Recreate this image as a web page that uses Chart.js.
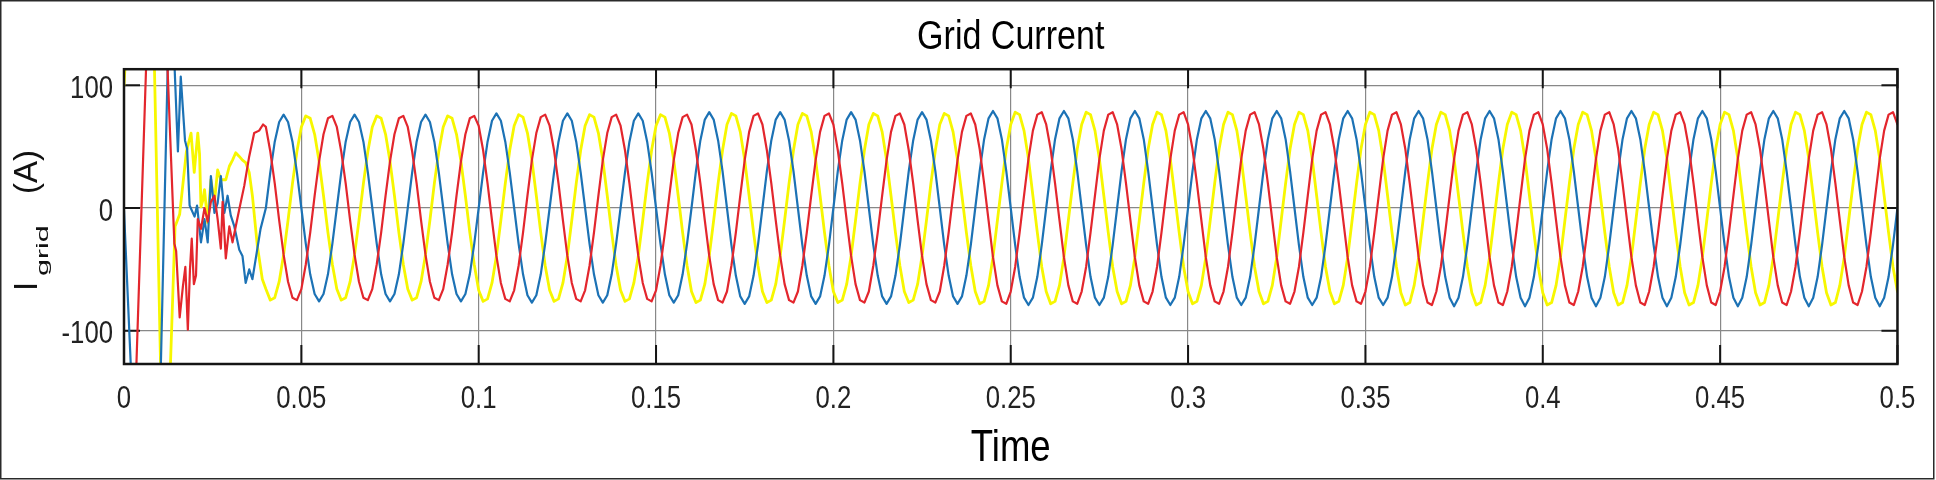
<!DOCTYPE html>
<html>
<head>
<meta charset="utf-8">
<title>Grid Current</title>
<script src="https://cdn.jsdelivr.net/npm/chart.js@4.4.1/dist/chart.umd.min.js"></script>
<style>
    html, body { margin: 0; padding: 0; background: #fff; }
    #box { width: 1936px; height: 480px; }
</style>
</head>
<body>
<div id="box"><canvas id="gridCurrent" width="1936" height="480"></canvas></div>
<script>
// axis ticks
const xTicks = [0, 0.05, 0.1, 0.15, 0.2, 0.25, 0.3, 0.35, 0.4, 0.45, 0.5];
const xTickLabels = ['0', '0.05', '0.1', '0.15', '0.2', '0.25', '0.3', '0.35', '0.4', '0.45', '0.5'];
const yTicks = [-100, 0, 100];
const yTickLabels = ['-100', '0', '100'];

// start-up transient (s, A)
const blueStartT = [0, 0.0019, 0.004, 0.007, 0.0095, 0.0104, 0.0123, 0.0133, 0.0143, 0.0152, 0.016, 0.0172, 0.0178, 0.0185, 0.0199, 0.0206, 0.0217, 0.0227, 0.0236, 0.0245, 0.0255, 0.0264, 0.0273, 0.0283, 0.0292, 0.0301, 0.0311, 0.0325, 0.0334, 0.0343, 0.0353, 0.0362, 0.0371, 0.0385];
const blueStartI = [-2, -127, -230, -260, -200, -127, 112, 150, 112, 46, 107, 55, 48, 2, -7, 2, -28, -9, -28, 26, -4, 4, 26, -4, 10, -6, -15, -34, -39, -61, -50, -58, -42, -17];

const redStartT = [0, 0.0035, 0.0062, 0.008, 0.011, 0.0123, 0.0142, 0.0147, 0.0157, 0.0166, 0.0173, 0.018, 0.0186, 0.0191, 0.0197, 0.0203, 0.0208, 0.0217, 0.0227, 0.0236, 0.0245, 0.0255, 0.0264, 0.0273, 0.0278, 0.0287, 0.0297, 0.0306, 0.0315, 0.0325, 0.0339, 0.0353, 0.0367, 0.0381, 0.0392];
const redStartI = [-140, -127, 112, 220, 220, 112, -29, -35, -89, -64, -48, -99, -50, -25, -62, -55, -9, -17, 0, -11, 5, 10, -9, -33, 5, -41, -15, -28, -15, -1, 18, 42, 61, 63, 68];

const yellowStartT = [0, 0.0008, 0.003, 0.006, 0.0086, 0.0103, 0.0115, 0.0131, 0.0144, 0.0157, 0.0176, 0.0189, 0.0198, 0.0208, 0.0213, 0.0217, 0.0222, 0.0227, 0.0236, 0.0245, 0.0255, 0.0264, 0.0273, 0.0287, 0.0297, 0.0306, 0.0315, 0.0325, 0.0334, 0.0343, 0.0353, 0.0362, 0.0376, 0.039];
const yellowStartI = [100, 140, 240, 240, 112, -127, -200, -127, -15, -5, 46, 61, 29, 61, 44, 1, 6, 15, -12, 23, 5, 31, 23, 23, 34, 39, 45, 42, 39, 37, 29, 10, -31, -58];

// steady state from 0.04 s, one sample every 1.25 ms (16 per 50 Hz cycle)
const steadyStart = 0.04;
const steadyStep = 0.00125;

const blueSteady = [
    0, 29, 54, 70, 76, 70, 54, 29, 0, -29, -54, -70, -76, -70, -54, -29,
    0, 29, 54, 70, 76, 70, 54, 29, 0, -29, -54, -70, -76, -70, -54, -29,
    0, 29, 54, 70, 76, 70, 54, 29, 0, -29, -54, -70, -76, -70, -54, -29,
    0, 29, 54, 71, 77, 71, 54, 29, 0, -29, -54, -71, -77, -71, -54, -29,
    0, 29, 54, 71, 77, 71, 54, 29, 0, -29, -54, -71, -77, -71, -54, -29,
    0, 29, 54, 71, 77, 71, 54, 29, 0, -29, -54, -71, -77, -71, -54, -29,
    0, 30, 55, 72, 78, 72, 55, 30, 0, -30, -55, -72, -78, -72, -55, -30,
    0, 30, 55, 72, 78, 72, 55, 30, 0, -30, -55, -72, -78, -72, -55, -30,
    0, 30, 55, 72, 78, 72, 55, 30, 0, -30, -55, -72, -78, -72, -55, -30,
    0, 30, 55, 72, 78, 72, 55, 30, 0, -30, -55, -72, -78, -72, -55, -30,
    0, 30, 56, 73, 79, 73, 56, 30, 0, -30, -56, -73, -79, -73, -56, -30,
    0, 30, 56, 73, 79, 73, 56, 30, 0, -30, -56, -73, -79, -73, -56, -30,
    0, 30, 56, 73, 79, 73, 56, 30, 0, -30, -56, -73, -79, -73, -56, -30,
    0, 30, 56, 73, 79, 73, 56, 30, 0, -30, -56, -73, -79, -73, -56, -30,
    0, 30, 56, 73, 79, 73, 56, 30, 0, -30, -56, -73, -79, -73, -56, -30,
    0, 30, 56, 73, 79, 73, 56, 30, 0, -30, -56, -73, -79, -73, -56, -30,
    0, 30, 56, 73, 79, 73, 56, 30, 0, -30, -56, -73, -80, -73, -56, -30,
    0, 30, 56, 73, 79, 73, 56, 30, 0, -30, -56, -73, -80, -73, -56, -30,
    0, 30, 56, 73, 79, 73, 56, 30, 0, -30, -56, -73, -80, -73, -56, -30,
    0, 30, 56, 73, 79, 73, 56, 30, 0, -30, -56, -73, -80, -73, -56, -30,
    0, 30, 56, 73, 79, 73, 56, 30, 0, -30, -56, -73, -80, -73, -56, -30,
    0, 30, 56, 73, 79, 73, 56, 30, 0, -30, -56, -73, -80, -73, -56, -30,
    0, 30, 56, 73, 79, 73, 56, 30, 0, -30, -56, -73, -80, -73, -56, -30,
    0
];

const redSteady = [
    66, 46, 20, -10, -38, -60, -73, -75, -66, -46, -20, 10, 38, 60, 73, 75,
    66, 46, 20, -10, -38, -60, -73, -75, -66, -46, -20, 10, 38, 60, 73, 75,
    66, 46, 20, -10, -38, -60, -73, -75, -66, -46, -20, 10, 38, 60, 73, 75,
    67, 47, 20, -10, -39, -61, -74, -76, -67, -47, -20, 10, 39, 61, 74, 76,
    67, 47, 20, -10, -39, -61, -74, -76, -67, -47, -20, 10, 39, 61, 74, 76,
    67, 47, 20, -10, -39, -61, -74, -76, -67, -47, -20, 10, 39, 61, 74, 76,
    68, 47, 20, -10, -39, -62, -75, -77, -68, -47, -20, 10, 39, 62, 75, 77,
    68, 47, 20, -10, -39, -62, -75, -77, -68, -47, -20, 10, 39, 62, 75, 77,
    68, 47, 20, -10, -39, -62, -75, -77, -68, -47, -20, 10, 39, 62, 75, 77,
    68, 47, 20, -10, -39, -62, -75, -77, -68, -47, -20, 10, 39, 62, 75, 77,
    68, 48, 20, -10, -40, -63, -76, -78, -68, -48, -20, 10, 40, 63, 76, 78,
    68, 48, 20, -10, -40, -63, -76, -78, -68, -48, -20, 10, 40, 63, 76, 78,
    68, 48, 20, -10, -40, -63, -76, -78, -68, -48, -20, 10, 40, 63, 76, 78,
    68, 48, 20, -10, -40, -63, -76, -78, -68, -48, -20, 10, 40, 63, 76, 78,
    68, 48, 20, -10, -40, -63, -76, -78, -68, -48, -20, 10, 40, 63, 76, 78,
    68, 48, 20, -10, -40, -63, -76, -78, -68, -48, -20, 10, 40, 63, 76, 78,
    68, 48, 20, -10, -40, -63, -77, -79, -68, -48, -20, 10, 40, 63, 76, 78,
    68, 48, 20, -10, -40, -63, -77, -79, -68, -48, -20, 10, 40, 63, 76, 78,
    68, 48, 20, -10, -40, -63, -77, -79, -68, -48, -20, 10, 40, 63, 76, 78,
    68, 48, 20, -10, -40, -63, -77, -79, -68, -48, -20, 10, 40, 63, 76, 78,
    68, 48, 20, -10, -40, -63, -77, -79, -68, -48, -20, 10, 40, 63, 76, 78,
    68, 48, 20, -10, -40, -63, -77, -79, -68, -48, -20, 10, 40, 63, 76, 78,
    68, 48, 20, -10, -40, -63, -77, -79, -68, -48, -20, 10, 40, 63, 76, 78,
    68
];

const yellowSteady = [
    -66, -75, -73, -60, -38, -10, 20, 46, 66, 75, 73, 60, 38, 10, -20, -46,
    -66, -75, -73, -60, -38, -10, 20, 46, 66, 75, 73, 60, 38, 10, -20, -46,
    -66, -75, -73, -60, -38, -10, 20, 46, 66, 75, 73, 60, 38, 10, -20, -46,
    -67, -76, -74, -61, -39, -10, 20, 47, 67, 76, 74, 61, 39, 10, -20, -47,
    -67, -76, -74, -61, -39, -10, 20, 47, 67, 76, 74, 61, 39, 10, -20, -47,
    -67, -76, -74, -61, -39, -10, 20, 47, 67, 76, 74, 61, 39, 10, -20, -47,
    -68, -77, -75, -62, -39, -10, 20, 47, 68, 77, 75, 62, 39, 10, -20, -47,
    -68, -77, -75, -62, -39, -10, 20, 47, 68, 77, 75, 62, 39, 10, -20, -47,
    -68, -77, -75, -62, -39, -10, 20, 47, 68, 77, 75, 62, 39, 10, -20, -47,
    -68, -77, -75, -62, -39, -10, 20, 47, 68, 77, 75, 62, 39, 10, -20, -47,
    -68, -78, -76, -63, -40, -10, 20, 48, 68, 78, 76, 63, 40, 10, -20, -48,
    -68, -78, -76, -63, -40, -10, 20, 48, 68, 78, 76, 63, 40, 10, -20, -48,
    -68, -78, -76, -63, -40, -10, 20, 48, 68, 78, 76, 63, 40, 10, -20, -48,
    -68, -78, -76, -63, -40, -10, 20, 48, 68, 78, 76, 63, 40, 10, -20, -48,
    -68, -78, -76, -63, -40, -10, 20, 48, 68, 78, 76, 63, 40, 10, -20, -48,
    -68, -78, -76, -63, -40, -10, 20, 48, 68, 78, 76, 63, 40, 10, -20, -48,
    -69, -79, -77, -63, -40, -10, 20, 48, 68, 78, 76, 63, 40, 10, -20, -48,
    -69, -79, -77, -63, -40, -10, 20, 48, 68, 78, 76, 63, 40, 10, -20, -48,
    -69, -79, -77, -63, -40, -10, 20, 48, 68, 78, 76, 63, 40, 10, -20, -48,
    -69, -79, -77, -63, -40, -10, 20, 48, 68, 78, 76, 63, 40, 10, -20, -48,
    -69, -79, -77, -63, -40, -10, 20, 48, 68, 78, 76, 63, 40, 10, -20, -48,
    -69, -79, -77, -63, -40, -10, 20, 48, 68, 78, 76, 63, 40, 10, -20, -48,
    -69, -79, -77, -63, -40, -10, 20, 48, 68, 78, 76, 63, 40, 10, -20, -48,
    -68
];

const textFont = "'Liberation Sans', Arial, sans-serif";
const squeeze = 0.83; // the scope's lettering is narrow

// sample clock of the steady part
const steadyTime = [];
for (let k = 0; k < blueSteady.length; k++) {
    steadyTime.push(+(steadyStart + k * steadyStep).toFixed(5));
}

const toPoints = (times, values) => times.map((t, i) => ({ x: t, y: values[i] }));

const series = (startT, startI, steady) =>
    toPoints(startT, startI).concat(toPoints(steadyTime, steady));

// narrow the chart's own text around its anchor point
const narrowText = {
    id: 'narrowText',
    beforeDraw(chart) {
        const ctx = chart.ctx;
        if (ctx.plainFillText) return;
        const plain = ctx.fillText;
        ctx.plainFillText = plain;
        ctx.fillText = function (text, x, y, maxWidth) {
            this.save();
            this.translate(x, y);
            this.scale(squeeze, 1);
            if (maxWidth === undefined) plain.call(this, text, 0, 0);
            else plain.call(this, text, 0, 0, maxWidth / squeeze);
            this.restore();
        };
    }
};

// ticks drawn inside the box, like the scope
const innerTicks = {
    id: 'innerTicks',
    beforeDatasetsDraw(chart) {
        const { ctx, chartArea: a, scales: { x, y } } = chart;
        ctx.save();
        ctx.strokeStyle = '#151515';
        ctx.lineWidth = 2;
        ctx.beginPath();
        xTicks.forEach(v => {
            const px = x.getPixelForValue(v);
            ctx.moveTo(px, a.top);
            ctx.lineTo(px, a.top + 19);
            ctx.moveTo(px, a.bottom);
            ctx.lineTo(px, a.bottom - 19);
        });
        yTicks.forEach(v => {
            const py = y.getPixelForValue(v);
            ctx.moveTo(a.left, py);
            ctx.lineTo(a.left + 16, py);
            ctx.moveTo(a.right, py);
            ctx.lineTo(a.right - 16, py);
        });
        ctx.stroke();
        ctx.restore();
    }
};

const boxFrame = {
    id: 'boxFrame',
    afterDatasetsDraw(chart) {
        const { ctx, chartArea: a } = chart;
        ctx.save();
        ctx.strokeStyle = '#151515';
        ctx.lineWidth = 2.5;
        ctx.strokeRect(a.left, a.top, a.right - a.left, a.bottom - a.top);
        ctx.lineWidth = 1.5;
        ctx.strokeStyle = '#2a2a2a';
        ctx.strokeRect(0.75, 0.75, chart.width - 3, chart.height - 2);
        ctx.restore();
    }
};

// I_grid (A), with the subscript
const yTitle = {
    id: 'yTitle',
    afterDraw(chart) {
        const ctx = chart.ctx;
        const put = (txt, x, y) => (ctx.plainFillText || ctx.fillText).call(ctx, txt, x, y);
        ctx.save();
        ctx.translate(37, 291);
        ctx.rotate(-Math.PI / 2);
        ctx.fillStyle = '#111';
        ctx.textBaseline = 'alphabetic';
        ctx.textAlign = 'left';
        ctx.font = '33px ' + textFont;
        put('I', 0, 0);
        put('(A)', 97, 0);
        ctx.translate(15, 11);
        ctx.scale(1.9, 1);
        ctx.font = '16px ' + textFont;
        put('grid', 0, 0);
        ctx.restore();
    }
};

const ctx = document.getElementById('gridCurrent').getContext('2d');

new Chart(ctx, {
    type: 'line',
    data: {
        datasets: [{
            label: 'Ic',
            data: series(redStartT, redStartI, redSteady),
            borderColor: '#e3262d',
            borderWidth: 2.2
        }, {
            label: 'Ib',
            data: series(blueStartT, blueStartI, blueSteady),
            borderColor: '#1c72b5',
            borderWidth: 2.2
        }, {
            label: 'Ia',
            data: series(yellowStartT, yellowStartI, yellowSteady),
            borderColor: '#f7f700',
            borderWidth: 2.8
        }]
    },
    options: {
        responsive: false,
        animation: false,
        events: [],
        layout: { padding: { left: 0, right: 24, top: 0, bottom: 0 } },
        elements: {
            point: { radius: 0 },
            line: { tension: 0, borderCapStyle: 'round', borderJoinStyle: 'round' }
        },
        plugins: {
            legend: { display: false },
            tooltip: { enabled: false },
            title: {
                display: true,
                fullSize: false,
                text: 'Grid Current',
                color: '#000',
                font: { family: textFont, size: 41, weight: 'normal' },
                padding: { top: 13, bottom: 7 }
            }
        },
        scales: {
            x: {
                type: 'linear',
                min: 0,
                max: 0.5,
                afterBuildTicks: s => { s.ticks = xTicks.map(v => ({ value: v })); },
                afterFit: s => { s.height = 116; },
                grid: { color: '#888', lineWidth: 1.2, drawTicks: false },
                border: { display: false },
                ticks: {
                    autoSkip: false,
                    maxRotation: 0,
                    padding: 17,
                    color: '#222',
                    font: { family: textFont, size: 31 },
                    callback: (v, i) => xTickLabels[i]
                },
                title: {
                    display: true,
                    text: 'Time',
                    color: '#000',
                    font: { family: textFont, size: 44 },
                    padding: { top: 0, bottom: 5 }
                }
            },
            y: {
                min: -127,
                max: 113,
                afterBuildTicks: s => { s.ticks = yTicks.map(v => ({ value: v })); },
                afterFit: s => { s.width = 124; },
                grid: { color: '#888', lineWidth: 1.2, drawTicks: false },
                border: { display: false },
                ticks: {
                    padding: 11,
                    labelOffset: 4,
                    color: '#222',
                    font: { family: textFont, size: 31 },
                    callback: (v, i) => yTickLabels[i]
                }
            }
        }
    },
    plugins: [narrowText, innerTicks, boxFrame, yTitle]
});
</script>
</body>
</html>
